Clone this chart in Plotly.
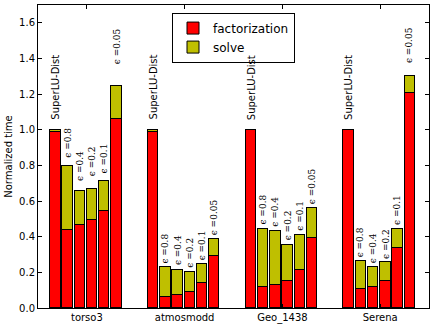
import plotly.graph_objects as go

# ---- data ----
categories = ["torso3", "atmosmodd", "Geo_1438", "Serena"]
configs = ["SuperLU-Dist", "ϵ =0.8", "ϵ =0.4", "ϵ =0.2", "ϵ =0.1", "ϵ =0.05"]

factorization = {
    "torso3":    [0.990, 0.437, 0.467, 0.493, 0.547, 1.058],
    "atmosmodd": [0.990, 0.061, 0.071, 0.087, 0.140, 0.289],
    "Geo_1438":  [0.997, 0.119, 0.128, 0.153, 0.213, 0.394],
    "Serena":    [0.997, 0.108, 0.119, 0.153, 0.334, 1.204],
}
solve = {
    "torso3":    [0.010, 0.359, 0.189, 0.174, 0.165, 0.189],
    "atmosmodd": [0.010, 0.168, 0.145, 0.116, 0.105, 0.098],
    "Geo_1438":  [0.003, 0.322, 0.305, 0.202, 0.194, 0.169],
    "Serena":    [0.003, 0.153, 0.113, 0.107, 0.107, 0.096],
}

# ---- layout tweaks (label gap above each bar, px) ----
label_gap = {
    "torso3":    [9, 7, 9, 12, 7, 20],
    "atmosmodd": [9, 3, 3, 3, 3, 3],
    "Geo_1438":  [9, 4, 3.5, 3, 3.5, 2.5],
    "Serena":    [9, 3, 2.5, 2, 3, 12],
}

GROUP_STEP = 8
BAR_W = 0.85

xs, f_vals, s_vals, tops, labels, gaps = [], [], [], [], [], []
for g, cat in enumerate(categories):
    for i, cfg in enumerate(configs):
        xs.append(g * GROUP_STEP + i + BAR_W / 2)
        f_vals.append(factorization[cat][i])
        s_vals.append(solve[cat][i])
        tops.append(factorization[cat][i] + solve[cat][i])
        labels.append(cfg)
        gaps.append(label_gap[cat][i])

fig = go.Figure()
fig.add_trace(go.Bar(x=xs, y=f_vals, width=BAR_W, name="factorization",
                     marker=dict(color="#ff0000", line=dict(color="black", width=1))))
fig.add_trace(go.Bar(x=xs, y=s_vals, width=BAR_W, name="solve",
                     marker=dict(color="#bfbf00", line=dict(color="black", width=1))))

for x, t, lab, gp in zip(xs, tops, labels, gaps):
    is_base = lab == "SuperLU-Dist"
    fig.add_annotation(
        x=x, y=t, xref="x", yref="y", text=lab, showarrow=False,
        textangle=-90, xanchor="center", yanchor="bottom", yshift=gp,
        borderpad=0,
        font=dict(family="DejaVu Sans" if is_base else "DejaVu Serif",
                  size=10 if is_base else 9, color="black"),
    )

axis_common = dict(showline=True, linecolor="black", linewidth=1, mirror="allticks",
                   ticks="inside", ticklen=4, tickcolor="black", showgrid=False,
                   zeroline=False, automargin=False,
                   tickfont=dict(family="DejaVu Sans", size=10, color="black"))

fig.update_layout(
    width=436, height=329,
    margin=dict(l=38, r=7, t=5, b=21),
    barmode="stack",
    bargap=0,
    plot_bgcolor="white", paper_bgcolor="white",
    font=dict(family="DejaVu Sans", size=10, color="black"),
    xaxis=dict(range=[-1, 31], tickvals=[g * GROUP_STEP + 3 for g in range(len(categories))],
               ticktext=categories, ticklabelstandoff=0, **axis_common),
    yaxis=dict(range=[0, 1.7], tickvals=[0, 0.2, 0.4, 0.6, 0.8, 1.0, 1.2, 1.4, 1.6],
               tickformat=".1f", ticklabelstandoff=0,
               title=dict(text="Normalized time", font=dict(size=10), standoff=4),
               **axis_common),
    legend=dict(x=0.5, xanchor="center", y=0.975, yanchor="top",
                traceorder="normal",
                bordercolor="black", borderwidth=1, bgcolor="white",
                font=dict(family="DejaVu Sans", size=12), tracegroupgap=0),
    showlegend=True,
)

fig.write_html("out.html", config={"displayModeBar": False},
               post_script="document.body.style.margin='0';document.body.style.overflow='hidden';")
